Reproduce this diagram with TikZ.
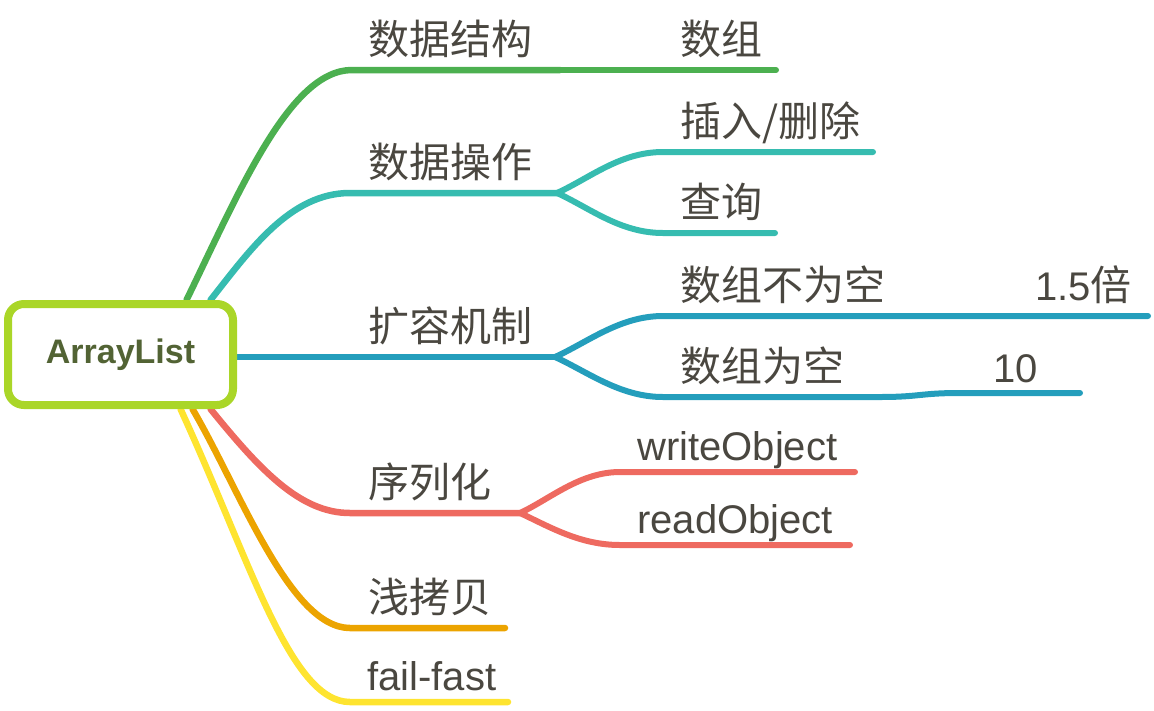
\documentclass[tikz,border=0pt]{standalone}
\usepackage{fontspec}
\setmainfont{Liberation Sans}
\newfontfamily\cjk{Noto Sans CJK SC}
\usetikzlibrary{backgrounds,calc}

\definecolor{rootgreen}{RGB}{170,214,40}
\definecolor{rootink}{RGB}{82,99,52}
\definecolor{ink}{RGB}{74,71,64}
\definecolor{bgreen}{RGB}{76,176,80}
\definecolor{bteal}{RGB}{54,188,176}
\definecolor{bblue}{RGB}{36,158,188}
\definecolor{bred}{RGB}{238,106,96}
\definecolor{borange}{RGB}{236,164,0}
\definecolor{byellow}{RGB}{254,228,48}

\begin{document}
\begin{tikzpicture}[x=1pt, y=-1pt,
  rootbox/.style={draw=rootgreen, line width=8pt, rounded corners=16pt, fill=white,
    minimum width=225pt, minimum height=101pt, text=rootink,
    font=\bfseries\fontsize{34}{34}\selectfont},
  lbl/.style={anchor=base west, inner sep=0pt, text=ink, font=\fontsize{40}{40}\selectfont},
  zh/.style={lbl, font=\cjk\fontsize{41}{41}\selectfont},
  branch/.style={line width=6.5pt, line cap=round},
  leaf/.style={line width=6pt, line cap=round}]

\useasboundingbox (0,0) rectangle (1154,710);

\node[rootbox] (root) at (120.5,354.5) {ArrayList};

% where the lines run
\coordinate (sjjg-a) at (352,70);   \coordinate (sjjg-b) at (560,70);
\coordinate (shuzu-b) at (776,70);
\coordinate (sjcz-a) at (350,193);  \coordinate (sjcz-b) at (557,193);
\coordinate (crsc-a) at (663,152);  \coordinate (crsc-b) at (873,152);
\coordinate (cx-a) at (663,233);    \coordinate (cx-b) at (775,233);
\coordinate (krjz-a) at (350,357);  \coordinate (krjz-b) at (555,357);
\coordinate (bwk-a) at (663,316);   \coordinate (bwk-b) at (920,316);
\coordinate (bei-b) at (1148,316);
\coordinate (wk-a) at (663,397);    \coordinate (wk-b) at (880,397);
\coordinate (ten-a) at (960,393);   \coordinate (ten-b) at (1080,393);
\coordinate (xlh-a) at (350,513);   \coordinate (xlh-b) at (520,513);
\coordinate (wo-a) at (620,472);    \coordinate (wo-b) at (855,472);
\coordinate (ro-a) at (620,545);    \coordinate (ro-b) at (850,545);
\coordinate (qkb-a) at (350,628);   \coordinate (qkb-b) at (505,628);
\coordinate (ff-a) at (350,702);    \coordinate (ff-b) at (508,702);

% labels
\node[zh] (sjjg) at (368,54) {数据结构};
\node[zh] (shuzu) at (680,54) {数组};
\node[zh] (sjcz) at (368,177) {数据操作};
\node[zh] (crsc) at (680,136) {插入/删除};
\node[zh] (cx) at (680,217) {查询};
\node[zh] (krjz) at (368,341) {扩容机制};
\node[zh] (bwk) at (680,300) {数组不为空};
\node[lbl] (bei) at (1035,300) {1.5{\cjk\fontsize{41}{41}\selectfont 倍}};
\node[zh] (wk) at (680,381) {数组为空};
\node[lbl] (ten) at (993,382) {10};
\node[zh] (xlh) at (368,497) {序列化};
\node[lbl] (wo) at (637,460) {writeObject};
\node[lbl] (ro) at (637,533) {readObject};
\node[zh] (qkb) at (368,612) {浅拷贝};
\node[lbl] (ff) at (367,690) {fail-fast};

\begin{scope}[on background layer]
% main branches
\draw[branch, bgreen] ($(root.north)+(66,0)$) .. controls (240,190) and (290,70) .. (sjjg-a) -- (sjjg-b);
\draw[branch, bteal] ($(root.north)+(90,0)$) .. controls (250,250) and (290,193) .. (sjcz-a) -- (sjcz-b);
\draw[branch, bblue] ($(root.east)+(0,2.5)$) -- (krjz-a) -- (krjz-b);
\draw[branch, bred] ($(root.south)+(90,0)$) .. controls (260,470) and (300,513) .. (xlh-a) -- (xlh-b);
\draw[branch, borange] ($(root.south)+(72,0)$) .. controls (240,490) and (290,628) .. (qkb-a) -- (qkb-b);
\draw[branch, byellow] ($(root.south)+(60,0)$) .. controls (250,560) and (290,702) .. (ff-a) -- (ff-b);
% sub branches
\draw[leaf, bgreen] (sjjg-b) -- (shuzu-b);
\draw[leaf, bteal] (sjcz-b) .. controls (590,178) and (620,152) .. (crsc-a) -- (crsc-b);
\draw[leaf, bteal] (sjcz-b) .. controls (590,208) and (620,233) .. (cx-a) -- (cx-b);
\draw[leaf, bblue] (krjz-b) .. controls (588,342) and (620,316) .. (bwk-a) -- (bwk-b) -- (bei-b);
\draw[leaf, bblue] (krjz-b) .. controls (588,372) and (620,397) .. (wk-a) -- (wk-b)
  .. controls (920,397) and (920,393) .. (ten-a) -- (ten-b);
\draw[leaf, bred] (xlh-b) .. controls (550,499) and (580,472) .. (wo-a) -- (wo-b);
\draw[leaf, bred] (xlh-b) .. controls (550,527) and (580,545) .. (ro-a) -- (ro-b);
\end{scope}
\end{tikzpicture}
\end{document}
